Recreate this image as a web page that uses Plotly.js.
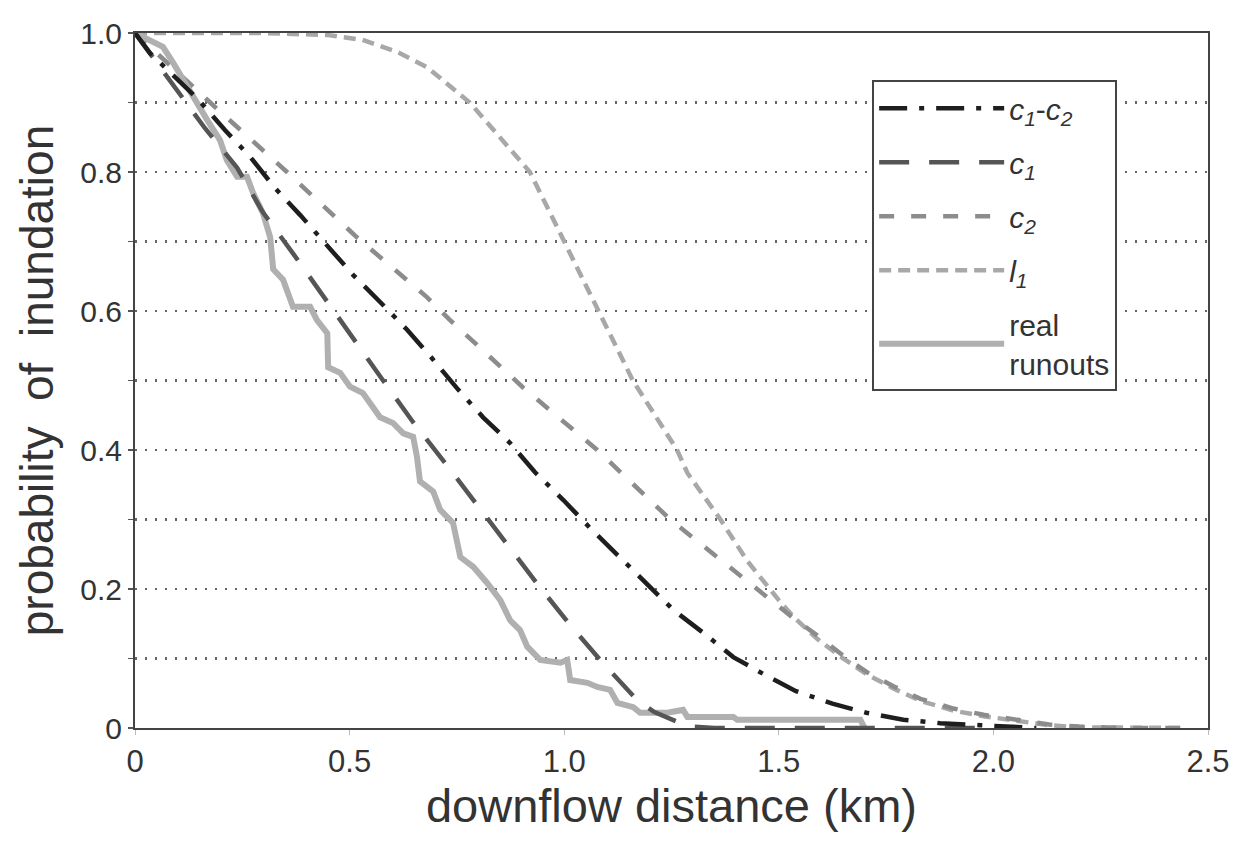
<!DOCTYPE html>
<html>
<head>
<meta charset="utf-8">
<script src="https://cdn.plot.ly/plotly-3.0.1.min.js"></script>
<style>html,body{margin:0;padding:0;background:#fff;}#chart{width:1233px;height:846px;}</style>
</head>
<body>
<div id="chart"></div>
<script>
// ---- data ----
var c1c2X = [0, 0.035, 0.145, 0.21, 0.268, 0.326, 0.385, 0.448, 0.508, 0.571, 0.634, 0.692, 0.75, 0.811, 0.874, 0.932, 0.998, 1.06, 1.124, 1.189, 1.254, 1.324, 1.394, 1.469, 1.54, 1.625, 1.704, 1.79, 1.876, 1.97, 2.05, 2.1];
var c1c2Y = [1, 0.971, 0.906, 0.86, 0.822, 0.777, 0.738, 0.695, 0.652, 0.613, 0.573, 0.532, 0.489, 0.447, 0.41, 0.368, 0.328, 0.288, 0.249, 0.209, 0.17, 0.137, 0.102, 0.076, 0.053, 0.035, 0.022, 0.012, 0.007, 0.004, 0.001, 0];

var c1X = [0, 0.035, 0.093, 0.163, 0.238, 0.298, 0.368, 0.438, 0.508, 0.578, 0.648, 0.723, 0.793, 0.865, 0.939, 1.014, 1.091, 1.17, 1.21, 1.263, 1.3, 1.35, 2.0];
var c1Y = [1, 0.97, 0.921, 0.863, 0.806, 0.742, 0.683, 0.621, 0.561, 0.5, 0.44, 0.381, 0.324, 0.265, 0.206, 0.148, 0.093, 0.04, 0.023, 0.009, 0.002, 0, 0];

var c2X = [0, 0.06, 0.175, 0.354, 0.517, 0.68, 0.734, 0.904, 1.077, 1.247, 1.364, 1.473, 1.53, 1.59, 1.65, 1.706, 1.767, 1.83, 1.907, 1.977, 2.063, 2.13, 2.2, 2.3, 2.44];
var c2Y = [1, 0.965, 0.9, 0.8, 0.706, 0.62, 0.587, 0.49, 0.4, 0.3, 0.242, 0.19, 0.16, 0.133, 0.104, 0.08, 0.06, 0.042, 0.028, 0.019, 0.011, 0.005, 0.002, 0, 0];

var l1X = [0, 0.3, 0.45, 0.53, 0.61, 0.68, 0.78, 0.92, 1.0, 1.08, 1.16, 1.263, 1.287, 1.364, 1.427, 1.5, 1.534, 1.59, 1.65, 1.706, 1.767, 1.83, 1.907, 1.977, 2.063, 2.13, 2.2, 2.44];
var l1Y = [1, 1, 0.997, 0.99, 0.973, 0.951, 0.9, 0.8, 0.7, 0.6, 0.5, 0.4, 0.367, 0.3, 0.24, 0.184, 0.16, 0.128, 0.1, 0.077, 0.057, 0.039, 0.025, 0.017, 0.009, 0.004, 0.001, 0];

var realX = [0, 0.03, 0.065, 0.089, 0.112, 0.14, 0.168, 0.198, 0.214, 0.238, 0.261, 0.275, 0.298, 0.315, 0.322, 0.345, 0.368, 0.408, 0.424, 0.448, 0.45, 0.478, 0.501, 0.531, 0.555, 0.571, 0.601, 0.625, 0.648, 0.657, 0.664, 0.695, 0.711, 0.741, 0.758, 0.788, 0.82, 0.851, 0.874, 0.897, 0.914, 0.944, 0.991, 1.007, 1.014, 1.054, 1.077, 1.107, 1.124, 1.161, 1.177, 1.24, 1.277, 1.287, 1.394, 1.403, 1.69, 1.70];
var realY = [1, 0.99, 0.98, 0.957, 0.932, 0.904, 0.875, 0.846, 0.817, 0.793, 0.793, 0.77, 0.741, 0.706, 0.66, 0.645, 0.606, 0.606, 0.587, 0.568, 0.519, 0.511, 0.491, 0.482, 0.462, 0.447, 0.439, 0.424, 0.419, 0.39, 0.355, 0.34, 0.314, 0.295, 0.246, 0.232, 0.209, 0.184, 0.155, 0.141, 0.117, 0.098, 0.094, 0.098, 0.069, 0.065, 0.059, 0.055, 0.036, 0.03, 0.022, 0.022, 0.026, 0.016, 0.016, 0.012, 0.012, 0];

var seriesNames = ['<i>c<sub>1</sub></i>-<i>c<sub>2</sub></i>', '<i>c<sub>1</sub></i>', '<i>c<sub>2</sub></i>', '<i>l<sub>1</sub></i>', 'real<br>runouts'];
var xTickVals = [0, 0.5, 1.0, 1.5, 2.0, 2.5];
var xTickText = ['0', '0.5', '1.0', '1.5', '2.0', '2.5'];
var yTickVals = [0, 0.2, 0.4, 0.6, 0.8, 1.0];
var yTickText = ['0', '0.2', '0.4', '0.6', '0.8', '1.0'];
var yMinorStep = 0.1;

// ---- traces ----
function tr(x, y, name, color, width, dash, grp) {
  return {x: x, y: y, name: name, type: 'scatter', mode: 'lines', cliponaxis: false,
          legendgroup: grp, line: {color: color, width: width, dash: dash}};
}
var traces = [
  tr(l1X, l1Y, seriesNames[3], '#a8a8a8', 4.5, '12px,7px', 'g4'),
  tr(c2X, c2Y, seriesNames[2], '#8c8c8c', 4.5, '15px,17px', 'g3'),
  tr(realX, realY, seriesNames[4], '#b0b0b0', 6, 'solid', 'g5'),
  tr(c1X, c1Y, seriesNames[1], '#555555', 4.5, '30px,20px', 'g2'),
  tr(c1c2X, c1c2Y, seriesNames[0], '#1e1e1e', 4.5, '28px,12px,5px,12px', 'g1')
];
traces[0].legendrank = 4; traces[1].legendrank = 3; traces[2].legendrank = 5;
traces[3].legendrank = 2; traces[4].legendrank = 1;

var gridDash = '2px,8px';
var layout = {
  width: 1233, height: 846,
  margin: {l: 135, r: 25, t: 33, b: 118},
  paper_bgcolor: '#ffffff', plot_bgcolor: '#ffffff',
  font: {family: 'Liberation Sans, Arial, sans-serif', color: '#333333'},
  showlegend: true,
  legend: {
    x: 0.687, y: 0.932, xanchor: 'left', yanchor: 'top',
    bgcolor: '#ffffff', bordercolor: '#444444', borderwidth: 2,
    font: {size: 30, color: '#333333'},
    traceorder: 'grouped', tracegroupgap: 12, itemwidth: 125
  },
  xaxis: {
    range: [0, 2.5], tickmode: 'array', tickvals: xTickVals, ticktext: xTickText,
    showgrid: false, zeroline: false,
    showline: true, mirror: true, linecolor: '#444444', linewidth: 2,
    ticks: 'outside', ticklen: 5, tickcolor: '#bbbbbb', tickwidth: 1,
    tickfont: {size: 31, color: '#333333'},
    title: {text: 'downflow distance (km)', font: {size: 47, color: '#333333'}, standoff: 8}
  },
  yaxis: {
    range: [0, 1], tickmode: 'array', tickvals: yTickVals, ticktext: yTickText,
    showgrid: true, gridcolor: '#666666', gridwidth: 2.5, griddash: gridDash,
    minor: {dtick: yMinorStep, tick0: 0, ticks: 'outside', ticklen: 5, tickcolor: '#555555', tickwidth: 1.5,
            showgrid: true, gridcolor: '#666666', gridwidth: 2.5, griddash: gridDash},
    zeroline: false,
    showline: true, mirror: true, linecolor: '#444444', linewidth: 2,
    ticks: 'outside', ticklen: 5, tickcolor: '#555555', tickwidth: 1.5,
    tickfont: {size: 30, color: '#333333'},
    title: {text: 'probability  of  inundation', font: {size: 46, color: '#333333'}, standoff: 12}
  }
};

Plotly.newPlot('chart', traces, layout, {displayModeBar: false, staticPlot: true});
</script>
</body>
</html>
